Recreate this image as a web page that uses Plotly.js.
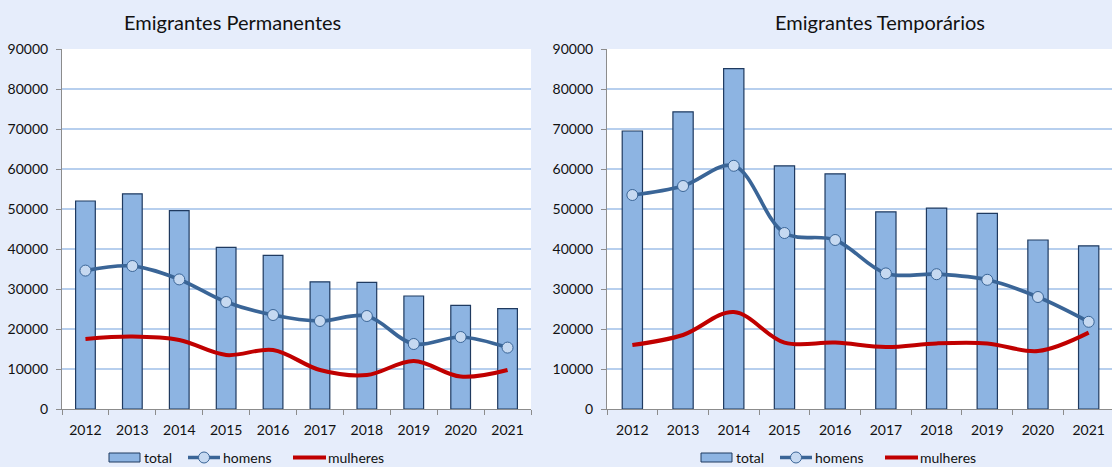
<!DOCTYPE html>
<html>
<head>
<meta charset="utf-8">
<script src="https://cdn.plot.ly/plotly-3.0.1.min.js"></script>
<style>
  html, body { margin: 0; padding: 0; background: #E6EDFB; }
  #chart { width: 1112px; height: 467px; }
</style>
</head>
<body>
<div id="chart"></div>
<script>
const years = ['2012','2013','2014','2015','2016','2017','2018','2019','2020','2021'];

const permTotal    = [52000, 53800, 49600, 40400, 38400, 31800, 31650, 28250, 25900, 25100];
const permHomens   = [34600, 35750, 32400, 26750, 23500, 22000, 23250, 16250, 18000, 15350];
const permMulheres = [17500, 18100, 17250, 13500, 14750,  9750,  8500, 12000,  8100,  9750];

const tempTotal    = [69500, 74300, 85100, 60800, 58800, 49300, 50200, 48900, 42250, 40800];
const tempHomens   = [53500, 55750, 60800, 44000, 42250, 33900, 33700, 32300, 28000, 21800];
const tempMulheres = [16000, 18500, 24250, 16600, 16600, 15500, 16400, 16400, 14500, 19100];

const titles = ['Emigrantes Permanentes', 'Emigrantes Temporários'];
const seriesNames = ['total', 'homens', 'mulheres'];

const FONT = 'Lato, "Open Sans", sans-serif';
const barFill = '#8DB4E2';
const barLine = '#1F3A60';
const menColor = '#3A6597';
const menMarker = '#C6D9F1';
const womenColor = '#C00000';

function makeTraces(total, homens, mulheres, xa, ya, bw) {
  return [
    { type: 'bar', x: years, y: total, name: seriesNames[0], xaxis: xa, yaxis: ya,
      width: bw, marker: { color: barFill, line: { color: barLine, width: 1.2 } } },
    { type: 'scatter', mode: 'lines+markers', x: years, y: homens, name: seriesNames[1], xaxis: xa, yaxis: ya,
      line: { color: menColor, width: 3.7, shape: 'spline', smoothing: 1 },
      marker: { size: 11, color: menMarker, line: { color: menColor, width: 1 } } },
    { type: 'scatter', mode: 'lines', x: years, y: mulheres, name: seriesNames[2], xaxis: xa, yaxis: ya,
      line: { color: womenColor, width: 4, shape: 'spline', smoothing: 1 } }
  ];
}

const data = [
  ...makeTraces(permTotal, permHomens, permMulheres, 'x', 'y', 0.42),
  ...makeTraces(tempTotal, tempHomens, tempMulheres, 'x2', 'y2', 0.40)
];

const W = 1112, H = 467;
const px = v => v / W;
const py = v => 1 - v / H;

function yAxis(domain) {
  return {
    domain: domain, range: [0, 90000], dtick: 10000, tick0: 0, tickformat: 'd',
    showgrid: true, gridcolor: '#B7CFEE', gridwidth: 2,
    zeroline: false, showline: true, linecolor: '#8C8C8C', linewidth: 1,
    ticks: 'outside', ticklen: 5, tickcolor: '#8C8C8C',
    tickfont: { family: FONT, size: 14, color: '#111' },
    ticklabelstandoff: 5, fixedrange: true
  };
}
function xAxis(domain, range, anchor) {
  return {
    domain: domain, range: range, type: 'category', anchor: anchor,
    showgrid: false, zeroline: false, showline: true, linecolor: '#8C8C8C', linewidth: 1,
    ticks: 'outside', ticklen: 5, tickcolor: '#8C8C8C', tickson: 'boundaries',
    tickfont: { family: FONT, size: 14, color: '#111' },
    ticklabelstandoff: 8, fixedrange: true
  };
}

// hand-drawn legend (wide box for the bar series, as in the source)
const shapes = [];
const annotations = [];
function addLegend(x0, yc) {
  shapes.push({ type: 'rect', xref: 'paper', yref: 'paper',
    x0: px(x0), x1: px(x0 + 31), y0: py(yc + 4.5), y1: py(yc - 4.5),
    fillcolor: barFill, line: { color: barLine, width: 1 } });
  annotations.push({ text: seriesNames[0], xref: 'paper', yref: 'paper', x: px(x0 + 33), y: py(yc),
    xanchor: 'left', yanchor: 'middle', showarrow: false, font: { family: FONT, size: 14, color: '#111' } });
  const hx = x0 + 79;
  shapes.push({ type: 'line', xref: 'paper', yref: 'paper',
    x0: px(hx), x1: px(hx + 32), y0: py(yc), y1: py(yc),
    line: { color: menColor, width: 3.5 } });
  shapes.push({ type: 'circle', xref: 'paper', yref: 'paper',
    x0: px(hx + 16 - 5.5), x1: px(hx + 16 + 5.5), y0: py(yc + 5.5), y1: py(yc - 5.5),
    fillcolor: menMarker, line: { color: menColor, width: 1 } });
  annotations.push({ text: seriesNames[1], xref: 'paper', yref: 'paper', x: px(hx + 33), y: py(yc),
    xanchor: 'left', yanchor: 'middle', showarrow: false, font: { family: FONT, size: 14, color: '#111' } });
  const mx = x0 + 184;
  shapes.push({ type: 'line', xref: 'paper', yref: 'paper',
    x0: px(mx), x1: px(mx + 33), y0: py(yc), y1: py(yc),
    line: { color: womenColor, width: 4 } });
  annotations.push({ text: seriesNames[2], xref: 'paper', yref: 'paper', x: px(mx + 33), y: py(yc),
    xanchor: 'left', yanchor: 'middle', showarrow: false, font: { family: FONT, size: 14, color: '#111' } });
}
addLegend(109, 457.5);
addLegend(701, 457.5);

annotations.push(
  { text: titles[0], xref: 'paper', yref: 'paper', x: px(232), y: py(22),
    xanchor: 'center', yanchor: 'middle', showarrow: false,
    font: { family: FONT, size: 20, color: '#111' } },
  { text: titles[1], xref: 'paper', yref: 'paper', x: px(880), y: py(22),
    xanchor: 'center', yanchor: 'middle', showarrow: false,
    font: { family: FONT, size: 20, color: '#111' } }
);

const layout = {
  width: W, height: H,
  margin: { l: 0, r: 0, t: 0, b: 0, autoexpand: false },
  paper_bgcolor: '#E6EDFB',
  plot_bgcolor: '#FFFFFF',
  font: { family: FONT, color: '#111' },
  barmode: 'overlay',
  showlegend: false,
  xaxis: xAxis([px(62), px(531)], [-0.5, 9.5], 'y'),
  yaxis: yAxis([py(409), py(49)]),
  xaxis2: xAxis([px(607), 1], [-0.5, 9.46], 'y2'),
  yaxis2: Object.assign(yAxis([py(409), py(49)]), { anchor: 'x2' }),
  shapes: shapes,
  annotations: annotations
};

Plotly.newPlot('chart', data, layout, { displayModeBar: false, staticPlot: true });
</script>
</body>
</html>
